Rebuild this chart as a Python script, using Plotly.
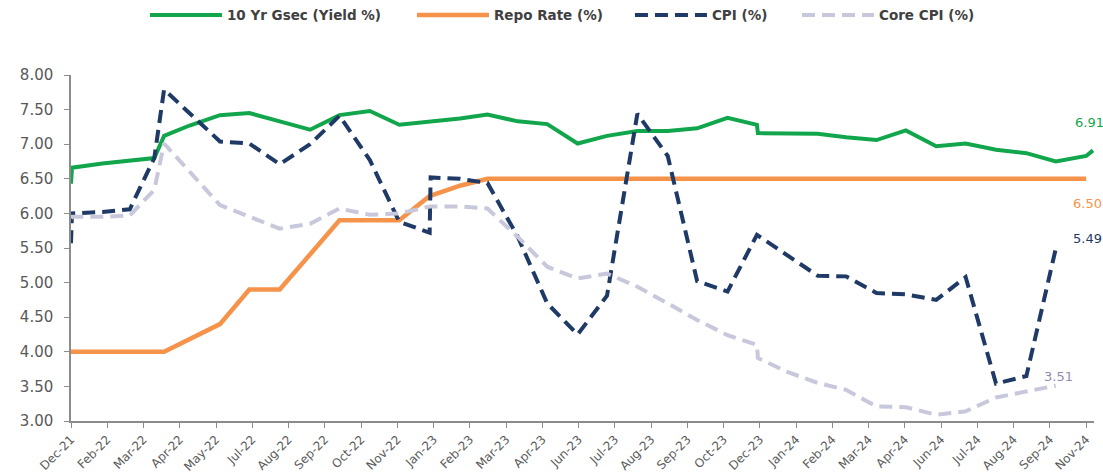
import plotly.graph_objects as go

# ---- data -------------------------------------------------------------
gsec_dates = ["2021-12-31", "2022-01-01", "2022-02-01", "2022-03-01", "2022-03-26",
              "2022-04-05", "2022-05-01", "2022-06-01", "2022-07-01", "2022-08-01",
              "2022-09-01", "2022-10-01", "2022-11-01", "2022-12-01", "2023-01-01",
              "2023-02-01", "2023-03-01", "2023-04-01", "2023-05-01", "2023-06-01",
              "2023-07-01", "2023-08-01", "2023-09-01", "2023-10-01", "2023-11-01",
              "2023-12-01", "2023-12-02", "2024-01-01", "2024-02-01", "2024-03-01",
              "2024-04-01", "2024-05-01", "2024-06-01", "2024-07-01", "2024-08-01",
              "2024-09-01", "2024-10-01", "2024-11-01", "2024-11-08"]
gsec_vals = [6.43, 6.66, 6.72, 6.76, 6.80,
             7.12, 7.27, 7.42, 7.45, 7.33,
             7.21, 7.42, 7.48, 7.28, 7.33,
             7.37, 7.43, 7.33, 7.29, 7.01,
             7.12, 7.19, 7.19, 7.23, 7.38,
             7.28, 7.16, 7.16, 7.15, 7.10,
             7.06, 7.20, 6.97, 7.01, 6.92,
             6.87, 6.75, 6.83, 6.91]

repo_dates = ["2021-12-31", "2022-01-01", "2022-02-01", "2022-03-01", "2022-04-05",
              "2022-06-01", "2022-07-01", "2022-08-01", "2022-09-01", "2022-10-01",
              "2022-11-01", "2022-12-01", "2023-01-01", "2023-02-01", "2023-03-01",
              "2023-04-01", "2023-05-01", "2023-06-01", "2023-07-01", "2023-08-01",
              "2023-09-01", "2023-10-01", "2023-11-01", "2023-12-01", "2024-01-01",
              "2024-02-01", "2024-03-01", "2024-04-01", "2024-05-01", "2024-06-01",
              "2024-07-01", "2024-08-01", "2024-09-01", "2024-10-01", "2024-11-01"]
repo_vals = [4.00, 4.00, 4.00, 4.00, 4.00,
             4.40, 4.90, 4.90, 5.40, 5.90,
             5.90, 5.90, 6.25, 6.40, 6.50,
             6.50, 6.50, 6.50, 6.50, 6.50,
             6.50, 6.50, 6.50, 6.50, 6.50,
             6.50, 6.50, 6.50, 6.50, 6.50,
             6.50, 6.50, 6.50, 6.50, 6.50]

cpi_dates = ["2021-12-31", "2022-01-01", "2022-02-01", "2022-03-01", "2022-03-26",
             "2022-04-05", "2022-06-01", "2022-07-01", "2022-08-01", "2022-09-01",
             "2022-10-01", "2022-11-01", "2022-12-01", "2023-01-01", "2023-01-02",
             "2023-02-01", "2023-03-01", "2023-04-01", "2023-05-01", "2023-06-01",
             "2023-07-01", "2023-08-01", "2023-09-01", "2023-10-01", "2023-11-01",
             "2023-12-01", "2024-02-01", "2024-03-01", "2024-04-01", "2024-05-01",
             "2024-06-01", "2024-07-01", "2024-08-01", "2024-09-01", "2024-10-01"]
cpi_vals = [5.57, 6.00, 6.02, 6.06, 6.80,
            7.79, 7.04, 7.01, 6.71, 7.00,
            7.41, 6.77, 5.88, 5.72, 6.52,
            6.50, 6.44, 5.66, 4.70, 4.25,
            4.81, 7.44, 6.83, 5.02, 4.87,
            5.69, 5.10, 5.09, 4.85, 4.83,
            4.75, 5.08, 3.54, 3.65, 5.49]

core_dates = ["2021-12-31", "2022-01-01", "2022-02-01", "2022-03-01", "2022-03-26",
              "2022-04-05", "2022-06-01", "2022-07-01", "2022-08-01", "2022-09-01",
              "2022-10-01", "2022-11-01", "2022-12-01", "2023-01-01", "2023-02-01",
              "2023-03-01", "2023-04-01", "2023-05-01", "2023-06-01", "2023-07-01",
              "2023-08-01", "2023-09-01", "2023-10-01", "2023-11-01", "2023-12-01",
              "2023-12-02", "2024-01-01", "2024-02-01", "2024-03-01", "2024-04-01",
              "2024-05-01", "2024-06-01", "2024-07-01", "2024-08-01", "2024-09-01",
              "2024-10-01"]
core_vals = [5.93, 5.95, 5.95, 5.97, 6.34,
             7.01, 6.12, 5.95, 5.78, 5.85,
             6.07, 5.98, 6.00, 6.10, 6.10,
             6.07, 5.66, 5.23, 5.06, 5.13,
             4.94, 4.70, 4.46, 4.24, 4.10,
             3.91, 3.71, 3.55, 3.45, 3.21,
             3.20, 3.09, 3.14, 3.34, 3.42,
             3.51]

series_names = ["10 Yr Gsec (Yield %)", "Repo Rate (%)", "CPI (%)", "Core CPI (%)"]
series_colors = ["#12A64C", "#F5934A", "#1F3A66", "#C8C8DC"]
label_colors = ["#12A64C", "#F5934A", "#1F3A66", "#8E8EB4"]

# ---- figure -----------------------------------------------------------
FONT = "DejaVu Sans, Verdana, sans-serif"

fig = go.Figure()

traces = [
    (gsec_dates, gsec_vals, "solid", 4),
    (repo_dates, repo_vals, "solid", 4.5),
    (cpi_dates, cpi_vals, "13px,7px", 4),
    (core_dates, core_vals, "13px,7px", 4),
]
legend_ids = ["legend", "legend2", "legend3", "legend4"]
legend_x = [0.0723, 0.3333, 0.5464, 0.7097]

for i, (d, v, dash, w) in enumerate(traces):
    fig.add_trace(go.Scatter(
        x=d, y=v, mode="lines", name=series_names[i],
        line=dict(color=series_colors[i], width=w, dash=dash),
        legend=legend_ids[i], hoverinfo="x+y",
    ))

# end-of-series value labels
end_points = [
    (gsec_dates[-1], gsec_vals[-1], -20, 28),
    (repo_dates[-1], repo_vals[-1], -15, -25),
    (cpi_dates[-1], cpi_vals[-1], 15, 10),
    (core_dates[-1], core_vals[-1], -14, 9),
]
for i, (d, v, xs, ys) in enumerate(end_points):
    fig.add_annotation(
        x=d, y=v, xref="x", yref="y", text=f"{v:.2f}", showarrow=False,
        xanchor="left", yanchor="middle", xshift=xs, yshift=ys,
        font=dict(family=FONT, size=13, color=label_colors[i]),
    )

legend_common = dict(
    orientation="h", yanchor="middle", y=1.173, xanchor="left",
    bgcolor="rgba(0,0,0,0)", itemwidth=72,
    font=dict(family=FONT, size=13.5, color="#404040", weight="bold"),
)
layout_legends = {}
for i, lid in enumerate(legend_ids):
    layout_legends[lid] = dict(legend_common, x=legend_x[i])

fig.update_layout(
    width=1103, height=476,
    margin=dict(l=71, r=9, t=75, b=55, autoexpand=False),
    paper_bgcolor="white", plot_bgcolor="white",
    font=dict(family=FONT, size=13, color="#595959"),
    showlegend=True,
    **layout_legends,
)

fig.update_xaxes(
    type="date",
    range=["2021-12-31", "2024-11-09"],
    tick0="2021-12-31", dtick=37 * 86400000,
    tickformat="%b-%y", tickangle=-45,
    ticks="outside", ticklen=5, tickcolor="#8C8C8C",
    showline=True, linecolor="#8C8C8C", linewidth=1.5,
    showgrid=False, zeroline=False, automargin=False,
    tickfont=dict(family=FONT, size=12, color="#595959"),
)
fig.update_yaxes(
    range=[3, 8], dtick=0.5, tickformat=".2f",
    ticks="outside", ticklen=5, tickcolor="#8C8C8C",
    showline=True, linecolor="#8C8C8C", linewidth=1.5,
    showgrid=False, zeroline=False, ticklabelstandoff=8, automargin=False,
    tickfont=dict(family=FONT, size=15, color="#595959"),
)

fig.write_html("out.html")
